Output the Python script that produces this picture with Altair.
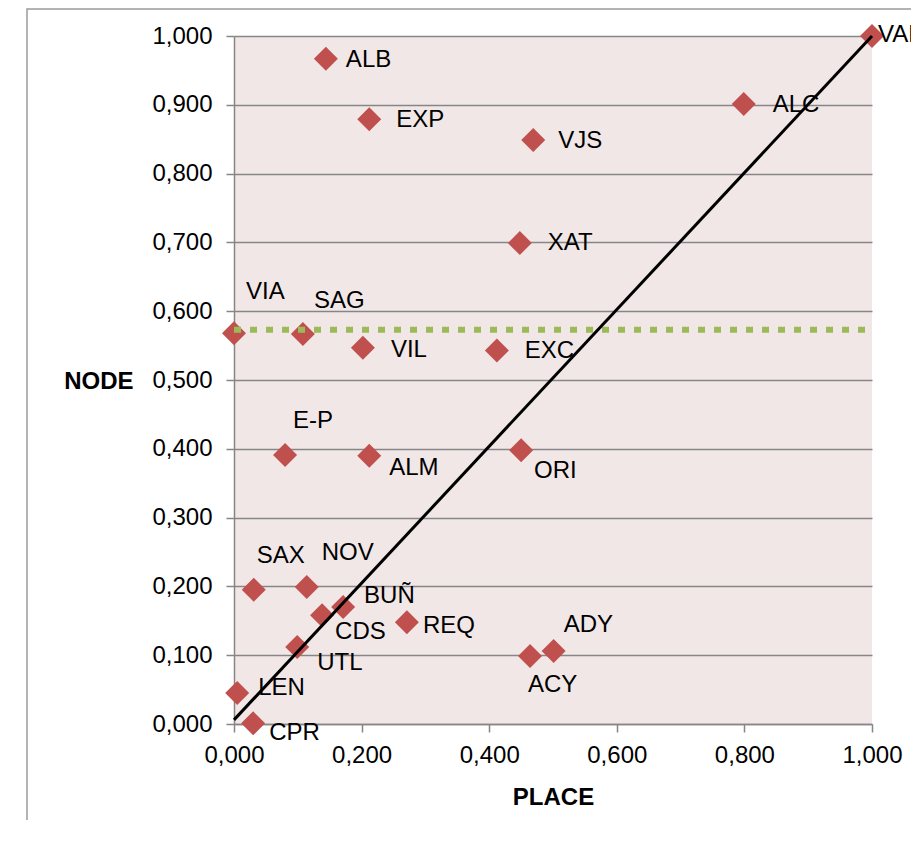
import altair as alt
import pandas as pd

# Data
names = ["VAN", "ALB", "EXP", "VJS", "ALC", "XAT", "VIA", "SAG", "VIL", "EXC",
         "E-P", "ALM", "ORI", "SAX", "NOV", "BUÑ", "CDS", "REQ", "UTL", "ADY",
         "ACY", "LEN", "CPR"]
place = [1.000, 0.144, 0.212, 0.469, 0.799, 0.448, 0.000, 0.108, 0.202, 0.412,
         0.080, 0.212, 0.450, 0.031, 0.114, 0.171, 0.138, 0.271, 0.099, 0.501,
         0.464, 0.005, 0.030]
node = [1.000, 0.967, 0.879, 0.849, 0.901, 0.699, 0.568, 0.567, 0.547, 0.543,
        0.391, 0.390, 0.398, 0.195, 0.199, 0.170, 0.158, 0.148, 0.112, 0.106,
        0.099, 0.045, 0.001]

mean_node = 0.573           # dotted horizontal reference line
diag_x = [0.0, 1.0]         # diagonal reference line
diag_y = [0.006, 1.0]

# label placement (pixel offsets of label's left edge / vertical centre)
label_offset = {
    "VAN": (6, -1), "ALB": (20, 1), "EXP": (27, 1), "VJS": (25, 1),
    "ALC": (29, 1), "XAT": (28, 0), "VIA": (12, -41), "SAG": (11, -33),
    "VIL": (28, 2), "EXC": (28, 1), "E-P": (8, -34), "ALM": (20, 12),
    "ORI": (13, 21), "SAX": (3, -34), "NOV": (15, -34), "BUÑ": (21, -11),
    "CDS": (13, 17), "REQ": (16, 4), "UTL": (20, 16), "ADY": (10, -26),
    "ACY": (-2, 29), "LEN": (21, -5), "CPR": (16, 10),
}

W, H = 638, 688
FONT = "Liberation Sans"
FS = 24

df = pd.DataFrame({"name": names, "place": place, "node": node})
df["lx"] = [p + label_offset[n][0] / W for n, p in zip(names, place)]
df["ly"] = [v - label_offset[n][1] / H for n, v in zip(names, node)]

xs = alt.Scale(domain=[0, 1], nice=False)
ys = alt.Scale(domain=[0, 1], nice=False)

fmt = "replace(format(datum.value, '.3f'), '.', ',')"

x_axis = alt.Axis(values=[0, 0.2, 0.4, 0.6, 0.8, 1.0], labelExpr=fmt, grid=False,
                  title="PLACE", titleFont=FONT, titleFontSize=FS, titleFontWeight="bold",
                  titleColor="black", titleY=73, titleBaseline="middle",
                  labelFont=FONT, labelFontSize=FS, labelColor="black", labelPadding=11,
                  domainColor="#868686", domainWidth=1.5, tickColor="#868686",
                  tickWidth=1.5, tickSize=8, labelFlush=False)
y_axis = alt.Axis(values=[i / 10 for i in range(11)], labelExpr=fmt, grid=True,
                  gridColor="#868686", gridWidth=1.5,
                  title="NODE", titleFont=FONT, titleFontSize=FS, titleFontWeight="bold",
                  titleColor="black", titleAngle=0, titleAlign="right",
                  titleBaseline="middle", titleX=-101, titleY=345,
                  labelFont=FONT, labelFontSize=FS, labelColor="black", labelPadding=14,
                  domainColor="#868686", domainWidth=1.5, tickColor="#868686",
                  tickWidth=1.5, tickSize=8, labelFlush=False)

border = alt.Chart(pd.DataFrame({"a": [0]})).mark_rect(
    fill=None, stroke="#9a9a9a", strokeWidth=1.5
).encode(x=alt.value(-207), x2=alt.value(900), y=alt.value(-27), y2=alt.value(900))

points = alt.Chart(df).mark_point(
    shape="diamond", filled=True, size=576, color="#C0504D", opacity=1
).encode(
    x=alt.X("place:Q", scale=xs, axis=x_axis),
    y=alt.Y("node:Q", scale=ys, axis=y_axis),
)

labels = alt.Chart(df).mark_text(
    align="left", baseline="middle", font=FONT, fontSize=FS, color="black"
).encode(x=alt.X("lx:Q", scale=xs), y=alt.Y("ly:Q", scale=ys), text="name:N")

mean_line = alt.Chart(pd.DataFrame({"x": [0.0], "x2": [1.0], "y": [mean_node]})).mark_rule(
    color="#9BBB59", strokeWidth=6, strokeDash=[7, 9]
).encode(x=alt.X("x:Q", scale=xs), x2="x2:Q", y=alt.Y("y:Q", scale=ys))

diag = alt.Chart(pd.DataFrame({"x": diag_x, "y": diag_y})).mark_line(
    color="black", strokeWidth=3
).encode(x=alt.X("x:Q", scale=xs), y=alt.Y("y:Q", scale=ys))

chart = alt.layer(border, points, labels, mean_line, diag).properties(
    width=W, height=H,
    autosize=alt.AutoSizeParams(type="none"),
    padding={"left": 226, "top": 28, "right": 39, "bottom": 96},
    background="white",
).configure_view(fill="#F2E7E7", stroke=None)

chart.save("out.html", embed_options={"renderer": "svg", "actions": False})
